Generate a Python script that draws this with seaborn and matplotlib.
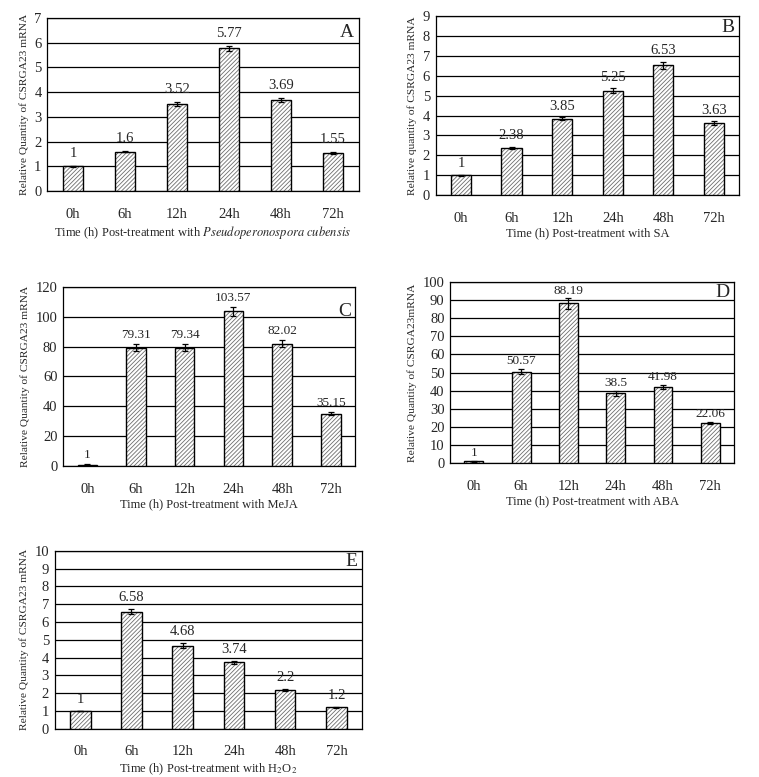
import matplotlib
matplotlib.use("Agg")
import matplotlib.pyplot as plt
import seaborn as sns
import numpy as np
import pandas as pd
from matplotlib.ticker import MultipleLocator, FixedLocator

sns.set_theme(style="white")
plt.rcParams['font.family'] = ['Liberation Serif', 'DejaVu Serif']
plt.rcParams['mathtext.fontset'] = 'stix'
plt.rcParams['hatch.linewidth'] = 0.6

times = ["0h", "6h", "12h", "24h", "48h", "72h"]

vals_A = [1, 1.6, 3.52, 5.77, 3.69, 1.55]
err_A = [0.02, 0.02, 0.08, 0.10, 0.08, 0.05]
vals_B = [1, 2.38, 3.85, 5.25, 6.53, 3.63]
err_B = [0.02, 0.05, 0.08, 0.13, 0.18, 0.08]
vals_C = [1, 79.31, 79.34, 103.57, 82.02, 35.15]
err_C = [0.5, 2.5, 2.5, 3.0, 2.5, 1.0]
vals_D = [1, 50.57, 88.19, 38.5, 41.98, 22.06]
err_D = [0.3, 1.5, 2.8, 1.2, 1.2, 0.6]
vals_E = [1, 6.58, 4.68, 3.74, 2.2, 1.2]
err_E = [0.02, 0.15, 0.12, 0.08, 0.05, 0.03]

labels_A = ["1", "1.6", "3.52", "5.77", "3.69", "1.55"]
labels_B = ["1", "2.38", "3.85", "5.25", "6.53", "3.63"]
labels_C = ["1", "79.31", "79.34", "103.57", "82.02", "35.15"]
labels_D = ["1", "50.57", "88.19", "38.5", "41.98", "22.06"]
labels_E = ["1", "6.58", "4.68", "3.74", "2.2", "1.2"]

panels = [
    dict(vals=vals_A, err=err_A, labels=labels_A, letter="A", ymax=7, step=1,
         ylabel="Relative Quantity of CSRGA23 mRNA",
         xlabel=r"Time (h) Post-treatment with $\it{Pseudoperonospora\ cubensis}$",
         pos=[0.062, 0.754, 0.411, 0.223], lblfs=10.5, ly=0.915, off=0.033),
    dict(vals=vals_B, err=err_B, labels=labels_B, letter="B", ymax=9, step=1,
         ylabel="Relative quantity of CSRGA23 mRNA",
         xlabel="Time (h) Post-treatment with SA",
         pos=[0.574, 0.749, 0.400, 0.230], lblfs=10.5, ly=0.935, off=0.025),
    dict(vals=vals_C, err=err_C, labels=labels_C, letter="C", ymax=120, step=20,
         ylabel="Relative Quantity of CSRGA23 mRNA",
         xlabel="Time (h) Post-treatment with MeJA",
         pos=[0.083, 0.400, 0.385, 0.231], lblfs=9.5, ly=0.86, off=0.015),
    dict(vals=vals_D, err=err_D, labels=labels_D, letter="D", ymax=100, step=10,
         ylabel="Relative Quantity of CSRGA23mRNA",
         xlabel="Time (h) Post-treatment with ABA",
         pos=[0.593, 0.404, 0.374, 0.233], lblfs=9.5, ly=0.945, off=0.01),
    dict(vals=vals_E, err=err_E, labels=labels_E, letter="E", ymax=10, step=1,
         ylabel="Relative Quantity of CSRGA23 mRNA",
         xlabel=r"Time (h) Post-treatment with H$_2$O$_2$",
         pos=[0.072, 0.062, 0.405, 0.229], lblfs=10.5, ly=0.94, off=0.029),
]

fig = plt.figure(figsize=(7.59, 7.77), dpi=100)

for p in panels:
    ax = fig.add_axes(p["pos"])
    df = pd.DataFrame({"time": times, "value": p["vals"]})
    # hatched fill (grey hatch lines)
    sns.barplot(data=df, x="time", y="value", ax=ax, color="white",
                edgecolor="#6e6e6e", linewidth=0, width=0.4, hatch="////////",
                errorbar=None, zorder=3)
    # black outline
    sns.barplot(data=df, x="time", y="value", ax=ax, fill=False,
                edgecolor="black", linewidth=1.0, width=0.4,
                errorbar=None, zorder=3.5)
    ax.errorbar(np.arange(len(times)), p["vals"], yerr=p["err"], fmt="none",
                ecolor="black", elinewidth=0.9, capsize=2.5, capthick=0.9, zorder=4)
    off = p["ymax"] * p["off"]
    for i, (v, e, t) in enumerate(zip(p["vals"], p["err"], p["labels"])):
        ax.text(i, v + e + off, t, ha="center", va="bottom", fontsize=p["lblfs"], zorder=5)
    ax.set_ylim(0, p["ymax"])
    ax.set_xlim(-0.5, 5.5)
    ax.yaxis.set_major_locator(MultipleLocator(p["step"]))
    ax.grid(axis="y", color="black", linewidth=0.9, zorder=0)
    ax.grid(axis="x", visible=False)
    ax.set_axisbelow(True)
    for s in ax.spines.values():
        s.set_color("black")
        s.set_linewidth(0.9)
    ax.xaxis.set_minor_locator(FixedLocator(np.arange(-0.5, 6.0, 1.0)))
    ax.tick_params(axis="x", which="major", length=0, labelsize=10.5, pad=12)
    ax.tick_params(axis="x", which="minor", length=3, direction="in", color="black", width=0.8, top=False)
    ax.tick_params(axis="y", which="major", length=0, labelsize=10.5, pad=4)
    ax.set_xlabel(p["xlabel"], fontsize=9, labelpad=2)
    ax.set_ylabel(p["ylabel"], fontsize=8.2, labelpad=4)
    ax.text(0.985, p["ly"], p["letter"], transform=ax.transAxes, ha="right", va="center",
            fontsize=14, zorder=6)

fig.savefig("out.png", dpi=100)
